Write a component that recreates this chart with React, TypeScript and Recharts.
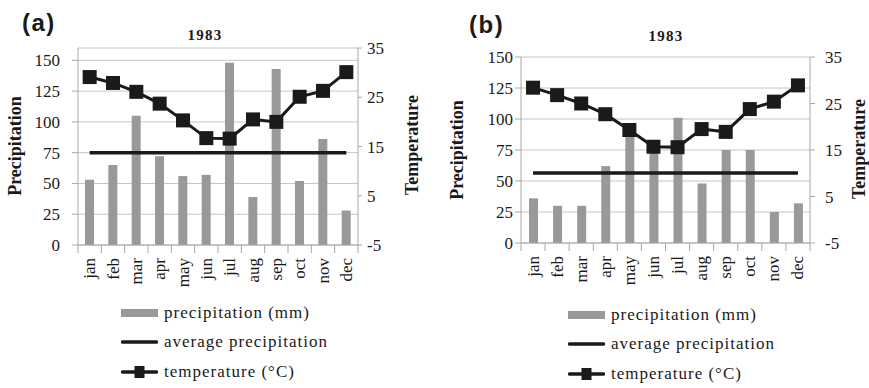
import React from 'react';
import { ComposedChart, Bar, Line, XAxis, YAxis, CartesianGrid, Legend } from 'recharts';

const months = ['jan', 'feb', 'mar', 'apr', 'may', 'jun', 'jul', 'aug', 'sep', 'oct', 'nov', 'dec'];

// panel (a)
const precipA = [53, 65, 105, 72, 56, 57, 148, 39, 143, 52, 86, 28];
const avgA = [75, 75, 75, 75, 75, 75, 75, 75, 75, 75, 75, 75];
const tempA = [29.1, 27.9, 26.1, 23.7, 20.3, 16.7, 16.6, 20.5, 20.0, 25.1, 26.3, 30.1];

// panel (b)
const precipB = [36, 30, 30, 62, 90, 77, 101, 48, 75, 75, 25, 32];
const avgB = [56.5, 56.5, 56.5, 56.5, 56.5, 56.5, 56.5, 56.5, 56.5, 56.5, 56.5, 56.5];
const tempB = [28.4, 26.8, 25.0, 22.7, 19.3, 15.7, 15.6, 19.5, 18.9, 23.8, 25.4, 28.9];

const precipTicks = [0, 25, 50, 75, 100, 125, 150];
const tempTicks = [-5, 5, 15, 25, 35];
const legendOrder = ['precip', 'avg', 'temp'];

const SERIF = '"Liberation Serif", "Times New Roman", serif';
const SANS = '"Liberation Sans", Arial, sans-serif';
const INK = '#1a1a1a';
const BAR = '#999999';
const AXIS = '#a8a8a8';
const GRID = '#c4c4c4';

const squareDot = (p: any) => (
  <rect key={`dot-${p.index}`} x={p.cx - 7} y={p.cy - 7} width={14} height={14} fill={INK} />
);

const MonthTick = (props: any) => {
  const { x, y, payload, index, band, gap } = props;
  const axisY = y - gap;
  const left = x - band / 2;
  return (
    <g>
      <line x1={left} x2={left} y1={axisY} y2={axisY + 8} stroke={AXIS} />
      {index === months.length - 1 && (
        <line x1={x + band / 2} x2={x + band / 2} y1={axisY} y2={axisY + 8} stroke={AXIS} />
      )}
      <text
        x={x}
        y={y}
        transform={`rotate(-90, ${x}, ${y})`}
        textAnchor="end"
        dominantBaseline="central"
        fontFamily={SERIF}
        fontSize={17}
        fill={INK}
      >
        {payload.value}
      </text>
    </g>
  );
};

const LegendIcon = ({ kind }: { kind: string }) => (
  <svg width={37} height={14} style={{ display: 'block' }}>
    {kind === 'precip' && <rect x={0} y={3} width={37} height={8} fill={BAR} />}
    {kind === 'avg' && <line x1={1.5} x2={35.5} y1={7} y2={7} stroke={INK} strokeWidth={3.5} strokeLinecap="round" />}
    {kind === 'temp' && (
      <g>
        <line x1={1.5} x2={35.5} y1={7} y2={7} stroke={INK} strokeWidth={3.5} strokeLinecap="round" />
        <rect x={13.5} y={1} width={10} height={12} fill={INK} />
      </g>
    )}
  </svg>
);

const renderLegend = (props: any) => {
  const items = [...(props.payload || [])].sort(
    (a: any, b: any) => legendOrder.indexOf(a.dataKey) - legendOrder.indexOf(b.dataKey)
  );
  return (
    <div>
      {items.map((entry: any) => (
        <div key={entry.value} style={{ display: 'flex', alignItems: 'center', height: 29.5 }}>
          <LegendIcon kind={entry.dataKey} />
          <span
            style={{
              marginLeft: 6,
              fontFamily: SERIF,
              fontSize: 17,
              letterSpacing: 1,
              color: INK,
              whiteSpace: 'nowrap',
            }}
          >
            {entry.value}
          </span>
        </div>
      ))}
    </div>
  );
};

type Geo = {
  top: number;
  right: number;
  bottom: number;
  leftW: number;
  leftMargin: number;
  rightSize: number;
  rightMargin: number;
  precipMax: number;
  legendLeft: number;
  legendTop: number;
  tag: [number, number];
  title: [number, number];
  precipLabel: [number, number];
  tempLabel: [number, number];
};

const W = 434;
const H = 388;
const RIGHT_W = 40;
const X_H = 50;

const Panel = ({
  tag,
  precip,
  avg,
  temp,
  geo,
}: {
  tag: string;
  precip: number[];
  avg: number[];
  temp: number[];
  geo: Geo;
}) => {
  const data = months.map((m, i) => ({ month: m, precip: precip[i], avg: avg[i], temp: temp[i] }));
  const band = (W - geo.leftW - RIGHT_W - geo.right) / months.length;

  const vertical = (text: string, pos: [number, number]) => (
    <div
      style={{
        position: 'absolute',
        left: pos[0],
        top: pos[1],
        transform: 'translate(-50%, -50%) rotate(-90deg)',
        fontFamily: SERIF,
        fontWeight: 'bold',
        fontSize: 18,
        lineHeight: '18px',
        color: INK,
        whiteSpace: 'nowrap',
      }}
    >
      {text}
    </div>
  );

  return (
    <div style={{ position: 'relative', width: W, height: H, fontFamily: SERIF }}>
      <ComposedChart
        width={W}
        height={H}
        data={data}
        margin={{ top: geo.top, right: geo.right, bottom: geo.bottom, left: 0 }}
      >
        <CartesianGrid vertical={false} yAxisId="left" stroke={GRID} />
        <XAxis
          dataKey="month"
          height={X_H}
          interval={0}
          tickLine={false}
          tickSize={0}
          tickMargin={13}
          axisLine={{ stroke: AXIS }}
          tick={(p: any) => <MonthTick {...p} band={band} gap={13} />}
        />
        <YAxis
          yAxisId="left"
          width={geo.leftW}
          domain={[0, geo.precipMax]}
          ticks={precipTicks}
          interval={0}
          tickSize={6}
          tickMargin={geo.leftMargin}
          axisLine={{ stroke: AXIS }}
          tickLine={{ stroke: AXIS }}
          tick={{ fontFamily: SERIF, fontSize: 17, fill: INK }}
        />
        <YAxis
          yAxisId="right"
          orientation="right"
          width={RIGHT_W}
          domain={[-5, 35]}
          ticks={tempTicks}
          interval={0}
          tickSize={geo.rightSize}
          tickMargin={geo.rightMargin}
          axisLine={{ stroke: AXIS }}
          tickLine={{ stroke: AXIS }}
          tick={{ fontFamily: SERIF, fontSize: 17, fill: INK, textAnchor: 'start' }}
        />
        <Bar
          yAxisId="left"
          dataKey="precip"
          name="precipitation (mm)"
          fill={BAR}
          barSize={9}
          isAnimationActive={false}
        />
        <Line
          yAxisId="left"
          type="linear"
          dataKey="avg"
          name="average precipitation"
          stroke={INK}
          strokeWidth={3.5}
          dot={false}
          activeDot={false}
          isAnimationActive={false}
        />
        <Line
          yAxisId="right"
          type="linear"
          dataKey="temp"
          name="temperature (°C)"
          stroke={INK}
          strokeWidth={3}
          dot={squareDot}
          activeDot={false}
          isAnimationActive={false}
        />
        <Legend
          layout="vertical"
          align="center"
          verticalAlign="middle"
          content={renderLegend}
          wrapperStyle={{ left: geo.legendLeft, top: geo.legendTop, width: 260 }}
        />
      </ComposedChart>

      <div
        style={{
          position: 'absolute',
          left: geo.tag[0],
          top: geo.tag[1],
          transform: 'translateY(-50%)',
          fontFamily: SANS,
          fontWeight: 'bold',
          fontSize: 24,
          letterSpacing: 1.5,
          lineHeight: '24px',
          color: INK,
        }}
      >
        {tag}
      </div>
      <div
        style={{
          position: 'absolute',
          left: geo.title[0],
          top: geo.title[1],
          transform: 'translate(-50%, -50%)',
          fontFamily: SERIF,
          fontWeight: 'bold',
          fontSize: 15,
          letterSpacing: 1.2,
          lineHeight: '15px',
          color: INK,
        }}
      >
        1983
      </div>
      {vertical('Precipitation', geo.precipLabel)}
      {vertical('Temperature', geo.tempLabel)}
    </div>
  );
};

const geoA: Geo = {
  top: 48,
  right: 36,
  bottom: 93,
  leftW: 78,
  leftMargin: 12,
  rightSize: 4,
  rightMargin: 5,
  precipMax: 160,
  legendLeft: 121,
  legendTop: 298,
  tag: [22, 23],
  title: [205, 35],
  precipLabel: [15, 146],
  tempLabel: [412, 145],
};

const geoB: Geo = {
  top: 57,
  right: 19,
  bottom: 95,
  leftW: 86,
  leftMargin: 2,
  rightSize: 5,
  rightMargin: 10,
  precipMax: 150,
  legendLeft: 133,
  legendTop: 300,
  tag: [34, 25],
  title: [231, 36],
  precipLabel: [22, 150],
  tempLabel: [424, 149],
};

export default function App() {
  return (
    <div style={{ position: 'absolute', left: 0, top: 0, width: 869, height: 388, background: '#fff', display: 'flex' }}>
      <Panel tag="(a)" precip={precipA} avg={avgA} temp={tempA} geo={geoA} />
      <div style={{ width: 1 }} />
      <Panel tag="(b)" precip={precipB} avg={avgB} temp={tempB} geo={geoB} />
    </div>
  );
}
